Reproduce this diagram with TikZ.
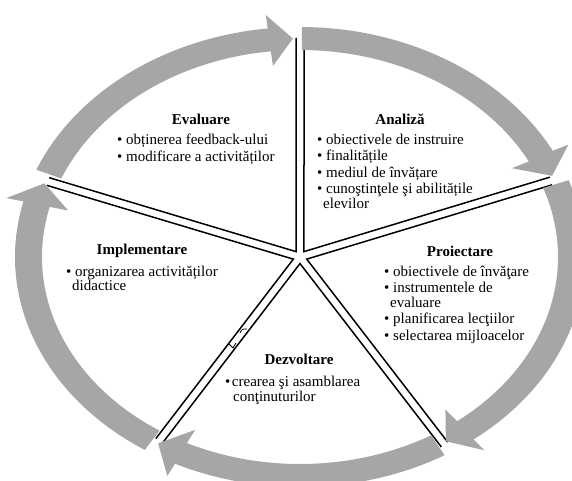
\documentclass[tikz,border=0pt]{standalone}
\usepackage{fontspec}
\setmainfont{Liberation Serif}
\usetikzlibrary{calc}
\definecolor{ringgray}{RGB}{166,166,166}
\newcommand{\wedgeedge}[3]{%
  \coordinate (#1a) at ($(C)!4pt!-90:(#2)$);
  \coordinate (#1b) at ($(#2)!4pt!90:(C)$);
  \coordinate (#1c) at ($(C)!4pt!90:(#3)$);
  \coordinate (#1d) at ($(#3)!4pt!-90:(C)$);
  \coordinate (#1apex) at (intersection of #1a--#1b and #1c--#1d);
  \draw[spoke] (#1b) -- (#1apex) -- (#1d);}
\newcommand{\ringarrow}[3]{%
  \fill[ringgray] ($(C)+({285*cos(#1)},{230*sin(#1)})$)
    arc[start angle=#1, end angle=#2, x radius=285pt, y radius=230pt]
    -- ($(C)+({302.7*cos(#2)},{243.6*sin(#2)})$)
    -- ($(C)+({271.5*cos(#3)},{218.5*sin(#3)})$)
    -- ($(C)+({238.9*cos(#2)},{192.3*sin(#2)})$)
    -- ($(C)+({258*cos(#2)},{207*sin(#2)})$)
    arc[start angle=#2, end angle=#1, x radius=258pt, y radius=207pt] -- cycle;}
\begin{document}
\begin{tikzpicture}[x=1pt,y=1pt,
  spoke/.style={line width=1.5pt, line join=miter},
  title/.style={font=\fontsize{15}{17}\selectfont\bfseries, anchor=base, inner sep=0pt},
  item/.style={font=\fontsize{15}{17}\selectfont, anchor=base west, inner sep=0pt}]
\useasboundingbox (0,0) rectangle (572,480);
\coordinate (C) at (300,223);
\coordinate (T) at (300,442);
\coordinate (R) at (551,299);
\coordinate (BR) at (444.5,35.5);
\coordinate (BL) at (159,39);
\coordinate (L) at (48,298.5);
% sectors
\wedgeedge{an}{T}{R}
\wedgeedge{pr}{R}{BR}
\wedgeedge{de}{BR}{BL}
\wedgeedge{im}{BL}{L}
\wedgeedge{ev}{L}{T}
% small marks on the lower-left double line
\draw[line width=0.8pt] (229,136) -- (233,132) -- (236,137);
\draw[line width=0.8pt] (240,147) .. controls (242,151) .. (247,151);
% ring arrows
\ringarrow{89.6}{27.5}{21.8}
\ringarrow{19.5}{-52.5}{-57.5}
\ringarrow{-59.5}{-116}{-121.5}
\ringarrow{-123}{-194}{-199.7}
\ringarrow{157.7}{96.5}{91.5}
% texts
\node[title] (evT) at (201,355.5) {Evaluare};
\node[item] (ev1) at (117,335.5) {\textbullet\ obținerea feedback-ului};
\node[item] (ev2) at (117,318.5) {\textbullet\ modificare a activităților};
\node[title] (anT) at (400,355.5) {Analiză};
\node[item] (an1) at (317,335.5) {\textbullet\ obiectivele de instruire};
\node[item] (an2) at (317,319.5) {\textbullet\ finalitățile};
\node[item] (an3) at (317,302.5) {\textbullet\ mediul de învățare};
\node[item] (an4) at (317,286.5) {\textbullet\ cunoştinţele şi abilitățile};
\node[item] (an5) at (323,271.5) {elevilor};
\node[title] (prT) at (460,223.5) {Proiectare};
\node[item] (pr1) at (384,203.5) {\textbullet\ obiectivele de învăţare};
\node[item] (pr2) at (384,187.5) {\textbullet\ instrumentele de};
\node[item] (pr3) at (390,172.5) {evaluare};
\node[item] (pr4) at (384,156.5) {\textbullet\ planificarea lecţiilor};
\node[item] (pr5) at (384,139.5) {\textbullet\ selectarea mijloacelor};
\node[title] (deT) at (299,115.5) {Dezvoltare};
\node[item] (de1) at (225,93.5) {\textbullet\kern1.5pt crearea şi asamblarea};
\node[item] (de2) at (233,78.5) {conţinuturilor};
\node[title] (imT) at (142,225.5) {Implementare};
\node[item] (im1) at (66,203.5) {\textbullet\ organizarea activităților};
\node[item] (im2) at (72,189.5) {didactice};
\end{tikzpicture}
\end{document}
